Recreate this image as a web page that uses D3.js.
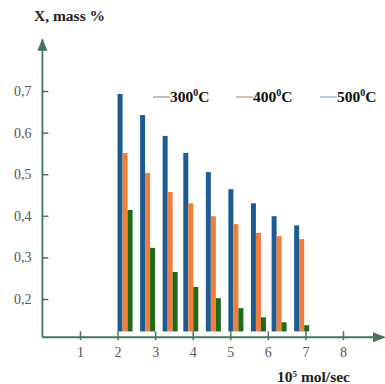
<!DOCTYPE html>
<html>
<head>
<meta charset="utf-8">
<script src="https://cdn.jsdelivr.net/npm/d3@7"></script>
<style>
  html, body { margin: 0; padding: 0; background: #fff; }
  svg { display: block; }
</style>
</head>
<body>
<div id="chart"></div>
<script>
// flow rate of each bar group (left edge), 10^5 mol/sec
const flow = [2.0, 2.6, 3.2, 3.75, 4.35, 4.95, 5.55, 6.1, 6.7];
// conversion X, mass %
const t500 = [0.693, 0.642, 0.592, 0.551, 0.505, 0.464, 0.430, 0.399, 0.377];
const t400 = [0.551, 0.503, 0.457, 0.430, 0.399, 0.380, 0.359, 0.351, 0.344];
const t300 = [0.414, 0.323, 0.265, 0.229, 0.202, 0.178, 0.156, 0.144, 0.137];
const xTicks = [1, 2, 3, 4, 5, 6, 7, 8];
const yTicks = [0.2, 0.3, 0.4, 0.5, 0.6, 0.7];
const legendLabels = ['300', '400', '500'];

const series = [
  { vals: t500, color: '#1d5b91' },
  { vals: t400, color: '#f37d3b' },
  { vals: t300, color: '#1f6a17' }
];
const legendCols = ['#a8a8a8', '#d2ab90', '#9dbdd0'];

const W = 385, H = 384;
const svg = d3.select('#chart').append('svg').attr('width', W).attr('height', H);

const x = d3.scaleLinear().domain([0, 8]).range([42.4, 343]);
const y = d3.scaleLinear().domain([0.2, 0.7]).range([299, 91]);
const axisBase = 0.108, barBase = 0.122, barW = 0.133;
const axisCol = '#44775a';
const serif = '"Liberation Serif", "DejaVu Serif", serif';

const defs = svg.append('defs');
defs.append('marker').attr('id', 'arr')
  .attr('viewBox', '0 0 10 10').attr('refX', 9).attr('refY', 5)
  .attr('markerWidth', 7).attr('markerHeight', 7).attr('orient', 'auto')
  .append('path').attr('d', 'M0,1L10,5L0,9z').attr('fill', axisCol);

// bars
series.forEach((s, k) => {
  svg.append('g').selectAll('rect').data(s.vals).join('rect')
    .attr('x', (d, i) => x(flow[i] + k * barW))
    .attr('width', x(barW) - x(0))
    .attr('y', d => y(d))
    .attr('height', d => y(barBase) - y(d))
    .attr('fill', s.color);
});

// y axis
const gy = svg.append('g').attr('transform', `translate(${x(0)},0)`)
  .call(d3.axisLeft(y).tickValues(yTicks).tickSizeInner(-6).tickSizeOuter(0).tickPadding(11)
    .tickFormat(d => d3.format('.1f')(d).replace('.', ',')));
gy.select('.domain').remove();
gy.selectAll('line').attr('stroke', axisCol).attr('stroke-width', 1.5);
gy.selectAll('text').attr('fill', '#555').style('font-family', serif).style('font-size', '14px');

// x axis
const gx = svg.append('g').attr('transform', `translate(0,${y(axisBase)})`)
  .call(d3.axisBottom(x).tickValues(xTicks).tickSizeInner(-6).tickSizeOuter(0).tickPadding(10)
    .tickFormat(d3.format('d')));
gx.select('.domain').remove();
gx.selectAll('line').attr('y1', 3).attr('y2', -6).attr('stroke', axisCol).attr('stroke-width', 1.5);
gx.selectAll('text').attr('fill', '#555').style('font-family', serif).style('font-size', '14px');

svg.append('line')
  .attr('x1', x(0)).attr('y1', y(axisBase)).attr('x2', x(0)).attr('y2', y(0.824))
  .attr('stroke', axisCol).attr('stroke-width', 1.8).attr('marker-end', 'url(#arr)');
svg.append('line')
  .attr('x1', x(0)).attr('y1', y(axisBase)).attr('x2', x(9.1)).attr('y2', y(axisBase))
  .attr('stroke', axisCol).attr('stroke-width', 1.8).attr('marker-end', 'url(#arr)');

// titles
svg.append('text').attr('x', 34).attr('y', 21)
  .style('font-family', serif).style('font-size', '15.5px').style('font-weight', 'bold')
  .attr('fill', '#222').text('X, mass %');
const xt = svg.append('text').attr('x', 277).attr('y', 382)
  .style('font-family', serif).style('font-size', '15.5px').style('font-weight', 'bold')
  .attr('fill', '#222');
xt.append('tspan').text('10');
xt.append('tspan').attr('dy', -5).style('font-size', '9px').text('5');
xt.append('tspan').attr('dy', 5).text(' mol/sec');

// legend
const lx = [153, 236, 320];
legendLabels.forEach((lab, i) => {
  const g = svg.append('g').attr('transform', `translate(${lx[i]},97)`);
  g.append('line').attr('x1', 0).attr('x2', 17).attr('y1', 0).attr('y2', 0)
    .attr('stroke', legendCols[i]).attr('stroke-width', 1.5);
  const t = g.append('text').attr('x', 17).attr('y', 5)
    .style('font-family', serif).style('font-size', '15.5px').style('font-weight', 'bold').attr('fill', '#111');
  t.append('tspan').text(lab);
  t.append('tspan').attr('dy', -6).style('font-size', '10px').text('0');
  t.append('tspan').attr('dy', 6).text('C');
});
</script>
</body>
</html>
